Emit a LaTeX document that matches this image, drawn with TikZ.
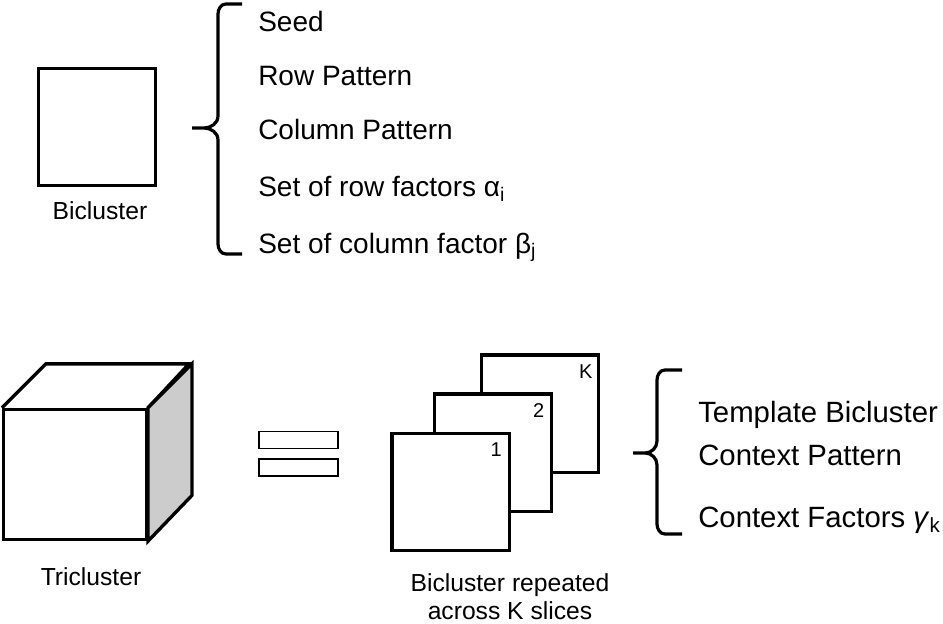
\documentclass[tikz,border=0pt]{standalone}
\usepackage{fontspec}
\setmainfont{Liberation Sans}
\tikzset{
    box/.style={draw, line width=2.5pt, fill=white, inner sep=0pt, minimum size=88pt},
    brace/.style={draw, line width=2.4pt},
    eqbar/.style={draw, line width=1.2pt, inner sep=0pt, minimum width=59pt, minimum height=12.5pt},
    item/.style={anchor=base west, inner sep=0pt, font=\fontsize{21}{25}\selectfont},
    bigitem/.style={anchor=base west, inner sep=0pt, font=\fontsize{22}{26}\selectfont},
    label/.style={inner sep=0pt, font=\fontsize{18.5}{21}\selectfont},
    num/.style={inner sep=0pt, font=\fontsize{15}{17}\selectfont}
}
\begin{document}
\begin{tikzpicture}[x=0.75pt, y=-0.75pt]
    \useasboundingbox (0,0) rectangle (943,624);
    % bicluster
    \node[box] (bic) at (97,127) {};
    \node[label, anchor=base] (biclab) at (100,220) {Bicluster};
    \draw[brace] (242,4) -- (226,4) to[out=180,in=90] (218,14) -- (218,116)
        to[out=-90,in=0] (204,128) -- (192,128) -- (204,128)
        to[out=0,in=90] (218,140) -- (218,244) to[out=-90,in=180] (226,254) -- (242,254);
    \node[item] (seed) at (258,32) {Seed};
    \node[item] (rowpat) at (258,86) {Row Pattern};
    \node[item] (colpat) at (258,140) {Column Pattern};
    \node[item] (rowfac) at (258,197) {Set of row factors α\textsubscript{i}};
    \node[item] (colfac) at (258,253) {Set of column factor β\textsubscript{j}};
    % tricluster
    \node[box, minimum width=107pt, minimum height=97.5pt] (cube) at (75,474.5) {};
    \draw[line width=2.5pt] (cube.north west) -- ++(44,-44) -- ++(143,0) -- (cube.north east);
    \draw[line width=2.5pt, fill=gray!40] (cube.north east) -- ++(44,-44) -- ++(0,131.5)
        -- (cube.south east) -- cycle;
    \node[label, anchor=base] (trilab) at (91,585) {Tricluster};
    \node[eqbar] (eqa) at (298.5,440) {};
    \node[eqbar] (eqb) at (298.5,467.5) {};
    % slices
    \node[box] (sk) at (540,413.5) {};
    \node[box] (s2) at (493,452.5) {};
    \node[box] (s1) at (450.5,492) {};
    \node[num] (nk) at ([xshift=-11pt, yshift=-13.5pt]sk.north east) {K};
    \node[num] (n2) at ([xshift=-11pt, yshift=-13.5pt]s2.north east) {2};
    \node[num] (n1) at ([xshift=-11pt, yshift=-13.5pt]s1.north east) {1};
    \node[label, align=center] (slicelab) at (510,597) {Bicluster repeated\\across K slices};
    \draw[brace] (682,370) -- (665,370) to[out=180,in=90] (657,380) -- (657,441)
        to[out=-90,in=0] (645,453) -- (633,453) -- (645,453)
        to[out=0,in=90] (657,465) -- (657,524) to[out=-90,in=180] (665,534) -- (682,534);
    \node[bigitem] (templ) at (698,422) {Template Bicluster};
    \node[bigitem] (ctxpat) at (698,465) {Context Pattern};
    \node[bigitem] (ctxfac) at (698,527) {Context Factors \textit{γ}\textsubscript{k}};
\end{tikzpicture}
\end{document}
